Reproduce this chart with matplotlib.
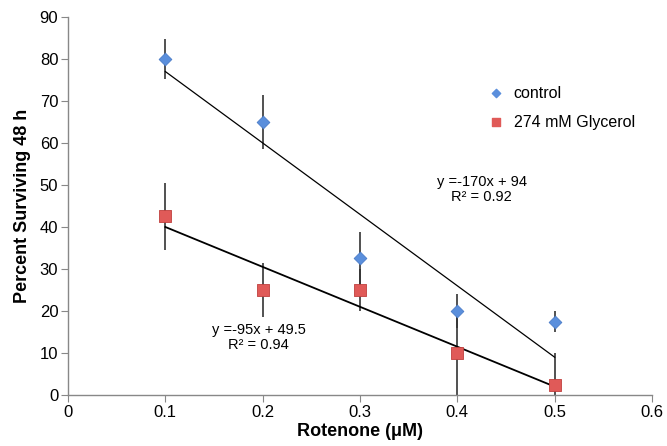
import matplotlib.pyplot as plt
import numpy as np

plt.rcParams['font.family'] = ['Liberation Sans', 'DejaVu Sans']

# Data
rotenone = [0.1, 0.2, 0.3, 0.4, 0.5]
control = [80, 65, 32.5, 20, 17.5]
control_err = [4.8, 6.5, 6.4, 4, 2.5]
glycerol = [42.5, 25, 25, 10, 2.5]
glycerol_err = [8, 6.5, 5, 10, 7.5]

x = np.array(rotenone)

fig = plt.figure(figsize=(6.67, 4.46), dpi=100)
ax = fig.add_axes([0.102, 0.1143, 0.8755, 0.8477])

# error bars
ax.errorbar(x, control, yerr=control_err, fmt='none', ecolor='#333333', elinewidth=1.2, capsize=0, zorder=2)
ax.errorbar(x, glycerol, yerr=glycerol_err, fmt='none', ecolor='#333333', elinewidth=1.2, capsize=0, zorder=2)

# linear trendlines
m1, b1 = np.polyfit(x, control, 1)
m2, b2 = np.polyfit(x, glycerol, 1)
ax.plot(x[[0, -1]], m1 * x[[0, -1]] + b1, color='black', linewidth=0.9, zorder=3)
ax.plot(x[[0, -1]], m2 * x[[0, -1]] + b2, color='black', linewidth=1.3, zorder=3)

# markers
ax.scatter(x, control, marker='D', s=42, color='#5b8fdc', edgecolor='#4a7cc8', linewidth=0.6, zorder=4)
ax.scatter(x, glycerol, marker='s', s=72, color='#e05a58', edgecolor='#c0403e', linewidth=0.6, zorder=4)

ax.text(0.425, 49, 'y =-170x + 94\nR² = 0.92', ha='center', va='center', fontsize=10.5, linespacing=1.1)
ax.text(0.196, 13.7, 'y =-95x + 49.5\nR² = 0.94', ha='center', va='center', fontsize=10.5, linespacing=1.1)

# legend (manual, no frame)
ax.scatter([0.44], [71.8], marker='D', s=18, color='#5b8fdc', clip_on=False)
ax.text(0.458, 71.8, 'control', va='center', fontsize=11.5)
ax.scatter([0.44], [64.9], marker='s', s=40, color='#e05a58', clip_on=False)
ax.text(0.458, 64.9, '274 mM Glycerol', va='center', fontsize=11.5)

ax.set_xlim(0, 0.6)
ax.set_ylim(0, 90)
ax.set_xticks(np.arange(0, 0.61, 0.1))
ax.set_xticklabels(['0', '0.1', '0.2', '0.3', '0.4', '0.5', '0.6'])
ax.set_yticks(np.arange(0, 91, 10))

for s in ['top', 'right']:
    ax.spines[s].set_visible(False)
for s in ['left', 'bottom']:
    ax.spines[s].set_color('#888888')
    ax.spines[s].set_linewidth(1.0)
ax.tick_params(direction='out', length=5, color='#888888', labelsize=12, pad=2)

ax.set_xlabel('Rotenone (μM)', fontsize=13, fontweight='bold', labelpad=2)
ax.set_ylabel('Percent Surviving 48 h', fontsize=13, fontweight='bold', labelpad=6)

fig.savefig('out.png', dpi=100)
